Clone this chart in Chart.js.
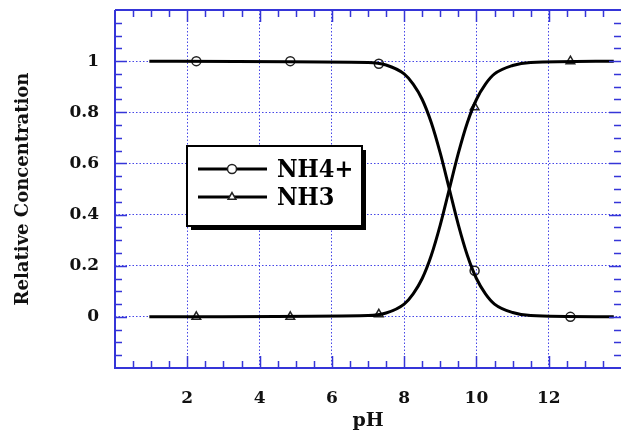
<!DOCTYPE html>
<html>
<head>
<meta charset="utf-8">
<script src="https://cdn.jsdelivr.net/npm/chart.js@4.4.1/dist/chart.umd.min.js"></script>
<style>
  html, body { margin: 0; padding: 0; background: #ffffff; }
  canvas { display: block; }
</style>
</head>
<body>
<canvas id="c" width="621" height="436"></canvas>
<script>
// ---- data ----
const seriesNames = ['NH4+', 'NH3'];
const curvePH  = [0.95, 7.0, 7.5, 8.0, 8.25, 8.5, 8.75, 9.0, 9.25, 9.5, 9.75, 10.0, 10.25, 10.5, 11.0, 11.5, 13.8];
const curveNH4 = [1.0, 0.995, 0.985, 0.95, 0.91, 0.85, 0.76, 0.64, 0.5, 0.36, 0.24, 0.15, 0.09, 0.05, 0.017, 0.005, 0.0];
const curveNH3 = [0.0, 0.005, 0.015, 0.05, 0.09, 0.15, 0.24, 0.36, 0.5, 0.64, 0.76, 0.85, 0.91, 0.95, 0.983, 0.995, 1.0];
const markerPH  = [2.25, 4.85, 7.3, 9.95, 12.6];
const markerNH4 = [1.0, 1.0, 0.99, 0.18, 0.0];
const markerNH3 = [0.0, 0.0, 0.01, 0.82, 1.0];
const xTickValues = [2, 4, 6, 8, 10, 12];
const xTickLabels = ['2', '4', '6', '8', '10', '12'];
const yTickValues = [0, 0.2, 0.4, 0.6, 0.8, 1];
const yTickLabels = ['0', '0.2', '0.4', '0.6', '0.8', '1'];
const xRange = [0, 14];
const yRange = [-0.2, 1.2];

const pts = (xs, ys) => xs.map((x, i) => ({ x: x, y: ys[i] }));

const BLUE = '#3535d8';
const GRID = 'rgba(60,60,230,0.95)';

const noPad = (s) => { s.paddingTop = 0; s.paddingBottom = 0; s.paddingLeft = 0; s.paddingRight = 0; };

const frameAndLegend = {
  id: 'frameAndLegend',
  afterDatasetsDraw(chart) {
    const ctx = chart.ctx;
    const L = 187, T = 146, W = 175, H = 80;
    ctx.save();
    ctx.fillStyle = '#000';
    ctx.fillRect(L + 4, T + 4, W, H);
    ctx.fillStyle = '#fff';
    ctx.fillRect(L, T, W, H);
    ctx.strokeStyle = '#000';
    ctx.lineWidth = 2;
    ctx.strokeRect(L, T, W, H);
    const rows = [169, 197];
    const styles = ['circle', 'triangle'];
    rows.forEach((ry, i) => {
      ctx.strokeStyle = '#000';
      ctx.lineWidth = 3;
      ctx.beginPath();
      ctx.moveTo(198, ry);
      ctx.lineTo(267, ry);
      ctx.stroke();
      ctx.fillStyle = '#fff';
      ctx.strokeStyle = '#222';
      ctx.lineWidth = 1.5;
      Chart.helpers.drawPoint(ctx, { pointStyle: styles[i], radius: 4.5, rotation: 0, borderWidth: 1.5 }, 232, ry);
      ctx.fillStyle = '#000';
      ctx.font = "bold 25px 'DejaVu Serif Condensed', 'Liberation Serif', serif";
      ctx.textBaseline = 'alphabetic';
      ctx.textAlign = 'left';
      ctx.fillText(seriesNames[i], 277, ry + 8);
    });
    ctx.restore();
  },
  afterDraw(chart) {
    const ctx = chart.ctx;
    const a = chart.chartArea;
    const xs = chart.scales.x, ys = chart.scales.y;
    ctx.save();
    ctx.strokeStyle = BLUE;
    ctx.lineWidth = 2;
    ctx.beginPath();
    ctx.moveTo(a.left, a.top);
    ctx.lineTo(a.right + 2, a.top);
    ctx.moveTo(a.left, a.top);
    ctx.lineTo(a.left, a.bottom);
    ctx.lineTo(a.right + 2, a.bottom);
    ctx.stroke();
    ctx.lineWidth = 1.5;
    ctx.beginPath();
    for (let k = 1; k < 28; k++) {
      const v = k * 0.5;
      const px = Math.round(xs.getPixelForValue(v)) + 0.5;
      const len = (k % 4 === 0) ? 12 : 7;
      ctx.moveTo(px, a.bottom);
      ctx.lineTo(px, a.bottom - len);
      ctx.moveTo(px, a.top);
      ctx.lineTo(px, a.top + len);
    }
    for (let k = 1; k < 28; k++) {
      const v = -0.2 + k * 0.05;
      const py = Math.round(ys.getPixelForValue(v)) + 0.5;
      const len = (k % 4 === 0) ? 12 : 7;
      ctx.moveTo(a.left, py);
      ctx.lineTo(a.left + len, py);
      ctx.moveTo(a.right, py);
      ctx.lineTo(a.right - len, py);
    }
    ctx.stroke();
    ctx.restore();
  }
};

const tickFont = { family: "'DejaVu Serif', serif", size: 17, weight: 'bold' };

new Chart(document.getElementById('c'), {
  type: 'line',
  data: {
    datasets: [
      { label: seriesNames[0], data: pts(curvePH, curveNH4), borderColor: '#000', borderWidth: 3,
        pointRadius: 0, cubicInterpolationMode: 'monotone', fill: false },
      { label: seriesNames[1], data: pts(curvePH, curveNH3), borderColor: '#000', borderWidth: 3,
        pointRadius: 0, cubicInterpolationMode: 'monotone', fill: false },
      { label: seriesNames[0] + ' pts', data: pts(markerPH, markerNH4), showLine: false,
        pointStyle: 'circle', pointRadius: 4.5, pointBorderWidth: 1.5,
        pointBorderColor: '#222', pointBackgroundColor: 'rgba(0,0,0,0)' },
      { label: seriesNames[1] + ' pts', data: pts(markerPH, markerNH3), showLine: false,
        pointStyle: 'triangle', pointRadius: 5, pointBorderWidth: 1.5,
        pointBorderColor: '#222', pointBackgroundColor: 'rgba(0,0,0,0)' }
    ]
  },
  options: {
    responsive: false,
    animation: false,
    devicePixelRatio: 1,
    layout: { autoPadding: false, padding: { left: 0, top: 10, right: 0, bottom: 0 } },
    plugins: { legend: { display: false }, tooltip: { enabled: false } },
    scales: {
      x: {
        type: 'linear', min: xRange[0], max: xRange[1],
        afterBuildTicks: (s) => { s.ticks = xTickValues.map(v => ({ value: v })); },
        afterFit: (s) => { s.height = 68; noPad(s); },
        ticks: { autoSkip: false, maxRotation: 0, padding: 20, color: '#111', font: tickFont,
                 callback: (v, i) => xTickLabels[i] },
        grid: { color: GRID, lineWidth: 1, drawTicks: false },
        border: { display: false, dash: [1.5, 2] },
        title: { display: true, text: 'pH', color: '#111', padding: { top: 0, bottom: 4 },
                 font: { family: "'DejaVu Serif', serif", size: 19, weight: 'bold' } }
      },
      y: {
        type: 'linear', min: yRange[0], max: yRange[1],
        afterBuildTicks: (s) => { s.ticks = yTickValues.map(v => ({ value: v })); },
        afterFit: (s) => { s.width = 115; noPad(s); },
        ticks: { autoSkip: false, padding: 16, color: '#111', font: tickFont,
                 callback: (v, i) => yTickLabels[i] },
        grid: { color: GRID, lineWidth: 1, drawTicks: false },
        border: { display: false, dash: [1.5, 2] },
        title: { display: true, text: 'Relative Concentration', color: '#111', padding: { top: 13, bottom: 0 },
                 font: { family: "'DejaVu Serif', serif", size: 18, weight: 'bold' } }
      }
    }
  },
  plugins: [frameAndLegend]
});
</script>
</body>
</html>
